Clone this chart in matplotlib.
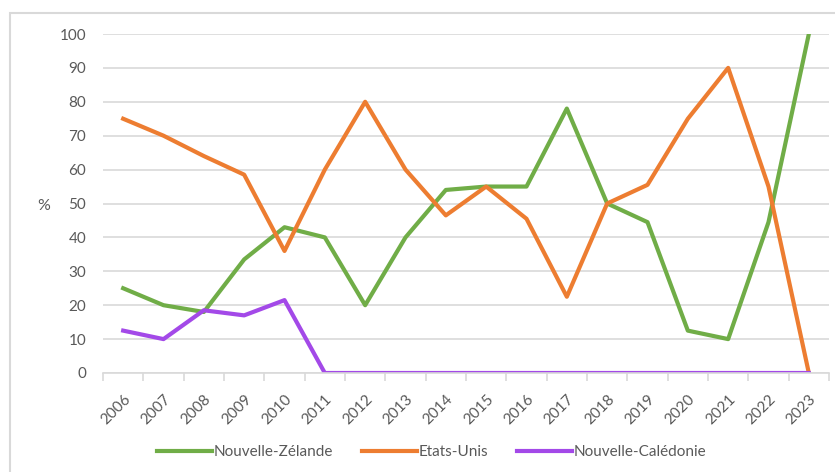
import numpy as np
import matplotlib.pyplot as plt
from matplotlib.patches import Rectangle

years = [str(y) for y in range(2006, 2024)]
nouvelle_zelande = [25, 20, 18, 33.5, 43, 40, 20, 40, 54, 55, 55, 78, 50, 44.5, 12.5, 10, 44.5, 100]
etats_unis = [75, 70, 64, 58.5, 36, 60, 80, 60, 46.5, 55, 45.5, 22.5, 50, 55.5, 75, 90, 55, 0]
nouvelle_caledonie = [12.5, 10, 18.5, 17, 21.5, 0, 0, 0, 0, 0, 0, 0, 0, 0, 0, 0, 0, 0]

plt.rcParams['font.family'] = ['Lato', 'DejaVu Sans']
grey = '#595959'

W, H = 835, 472
fig = plt.figure(figsize=(W / 100, H / 100), dpi=100)

# chart frame
fig.patches.append(Rectangle((10 / W, -0.1), 1.0, 1 - 13 / H + 0.1, transform=fig.transFigure,
                             fill=False, edgecolor='#d9d9d9', linewidth=1.5))

ax = fig.add_axes([103 / W, 1 - 373 / H, (829 - 103) / W, (373 - 34) / H])
x = np.arange(len(years))
ax.plot(x, nouvelle_zelande, color='#70AD47', lw=3, label='Nouvelle-Zélande', solid_joinstyle='round')
ax.plot(x, etats_unis, color='#ED7D31', lw=3, label='Etats-Unis', solid_joinstyle='round')
ax.plot(x, nouvelle_caledonie, color='#A349E8', lw=3, label='Nouvelle-Calédonie', solid_joinstyle='round')

ax.set_xlim(-0.5, len(years) - 0.5)
ax.set_ylim(0, 100)
ax.set_yticks(range(0, 101, 10))
ax.grid(axis='y', color='#d9d9d9', lw=1.2)
ax.set_axisbelow(True)
for s in ['top', 'right', 'left']:
    ax.spines[s].set_visible(False)
ax.spines['bottom'].set_color('#d9d9d9')
ax.spines['bottom'].set_linewidth(1.2)

ax.set_xticks(np.arange(-0.5, len(years), 1))
ax.set_xticklabels([])
ax.set_xticks(x, minor=True)
ax.set_xticklabels(years, minor=True, rotation=45, ha='right', rotation_mode='anchor',
                   fontsize=11, color=grey)
ax.tick_params(axis='x', which='major', length=6, color='#d9d9d9', width=1.2)
ax.tick_params(axis='x', which='minor', length=0, pad=14)
ax.tick_params(axis='y', length=0, labelsize=11, labelcolor=grey, pad=12)

fig.text(44 / W, 1 - 206 / H, '%', fontsize=11.5, color=grey, ha='center', va='center')

ax.legend(loc='center', bbox_to_anchor=(432 / W, 1 - 452 / H), bbox_transform=fig.transFigure,
          ncol=3, frameon=False, fontsize=11, labelcolor=grey, handlelength=3.6,
          handletextpad=0.1, columnspacing=1.9)

fig.savefig('out.png', dpi=100)
